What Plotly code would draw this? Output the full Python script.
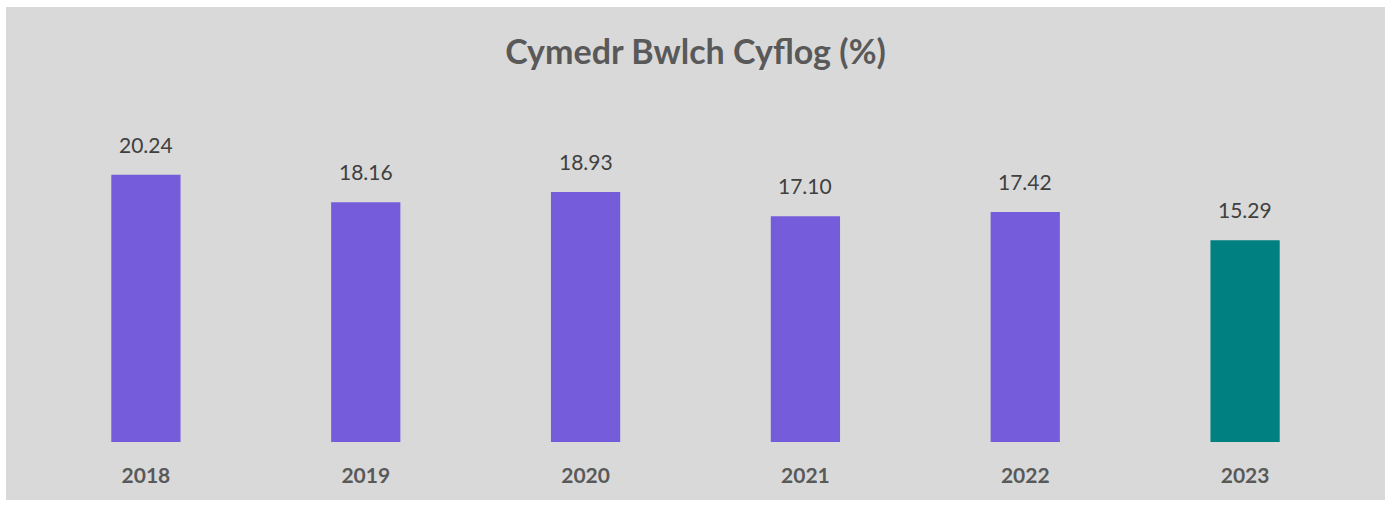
import plotly.graph_objects as go

years = ["2018", "2019", "2020", "2021", "2022", "2023"]
values = [20.24, 18.16, 18.93, 17.10, 17.42, 15.29]
colors = ["#745cdb", "#745cdb", "#745cdb", "#745cdb", "#745cdb", "#008080"]
title_text = "Cymedr Bwlch Cyflog (%)"

W, H = 1391, 507
ml, mr, mt, mb = 36, 36, 112, 65
pw = W - ml - mr
ph = H - mt - mb

fig = go.Figure()
fig.add_trace(go.Bar(
    x=years, y=values, marker=dict(color=colors, line=dict(width=0)),
    width=0.315, hoverinfo="x+y",
))

for i, v in enumerate(values):
    fig.add_annotation(
        x=i, y=v, text=f"{v:.2f}", showarrow=False, yanchor="bottom",
        yshift=16, font=dict(family="Lato, Open Sans, sans-serif", size=21, color="#404040"),
    )

# gray panel background
fig.add_shape(
    type="rect", xref="paper", yref="paper", layer="below",
    x0=(6 - ml) / pw, x1=(1385 - ml) / pw,
    y0=(H - mb - 500) / ph, y1=(H - mb - 7) / ph,
    fillcolor="#d9d9d9", line=dict(width=0),
)

fig.update_layout(
    width=W, height=H,
    margin=dict(l=ml, r=mr, t=mt, b=mb, autoexpand=False),
    paper_bgcolor="white", plot_bgcolor="rgba(0,0,0,0)",
    showlegend=False,
    title=dict(
        text=f"<b>{title_text}</b>", x=0.5, xanchor="center",
        y=1 - 52 / H, yanchor="middle", yref="container",
        font=dict(family="Lato, Open Sans, sans-serif", size=34, color="#595959"),
    ),
    xaxis=dict(
        type="category", range=[-0.5, len(years) - 0.5],
        showgrid=False, zeroline=False, showline=False,
        ticks="outside", ticklen=15, tickcolor="rgba(0,0,0,0)",
        tickfont=dict(family="Lato, Open Sans, sans-serif", size=21, color="#595959", weight="bold"),
    ),
    yaxis=dict(range=[0, 25], visible=False, showgrid=False, zeroline=False),
)

fig.write_html("out.html", config={"displayModeBar": False},
               post_script="document.body.style.margin='0';")
